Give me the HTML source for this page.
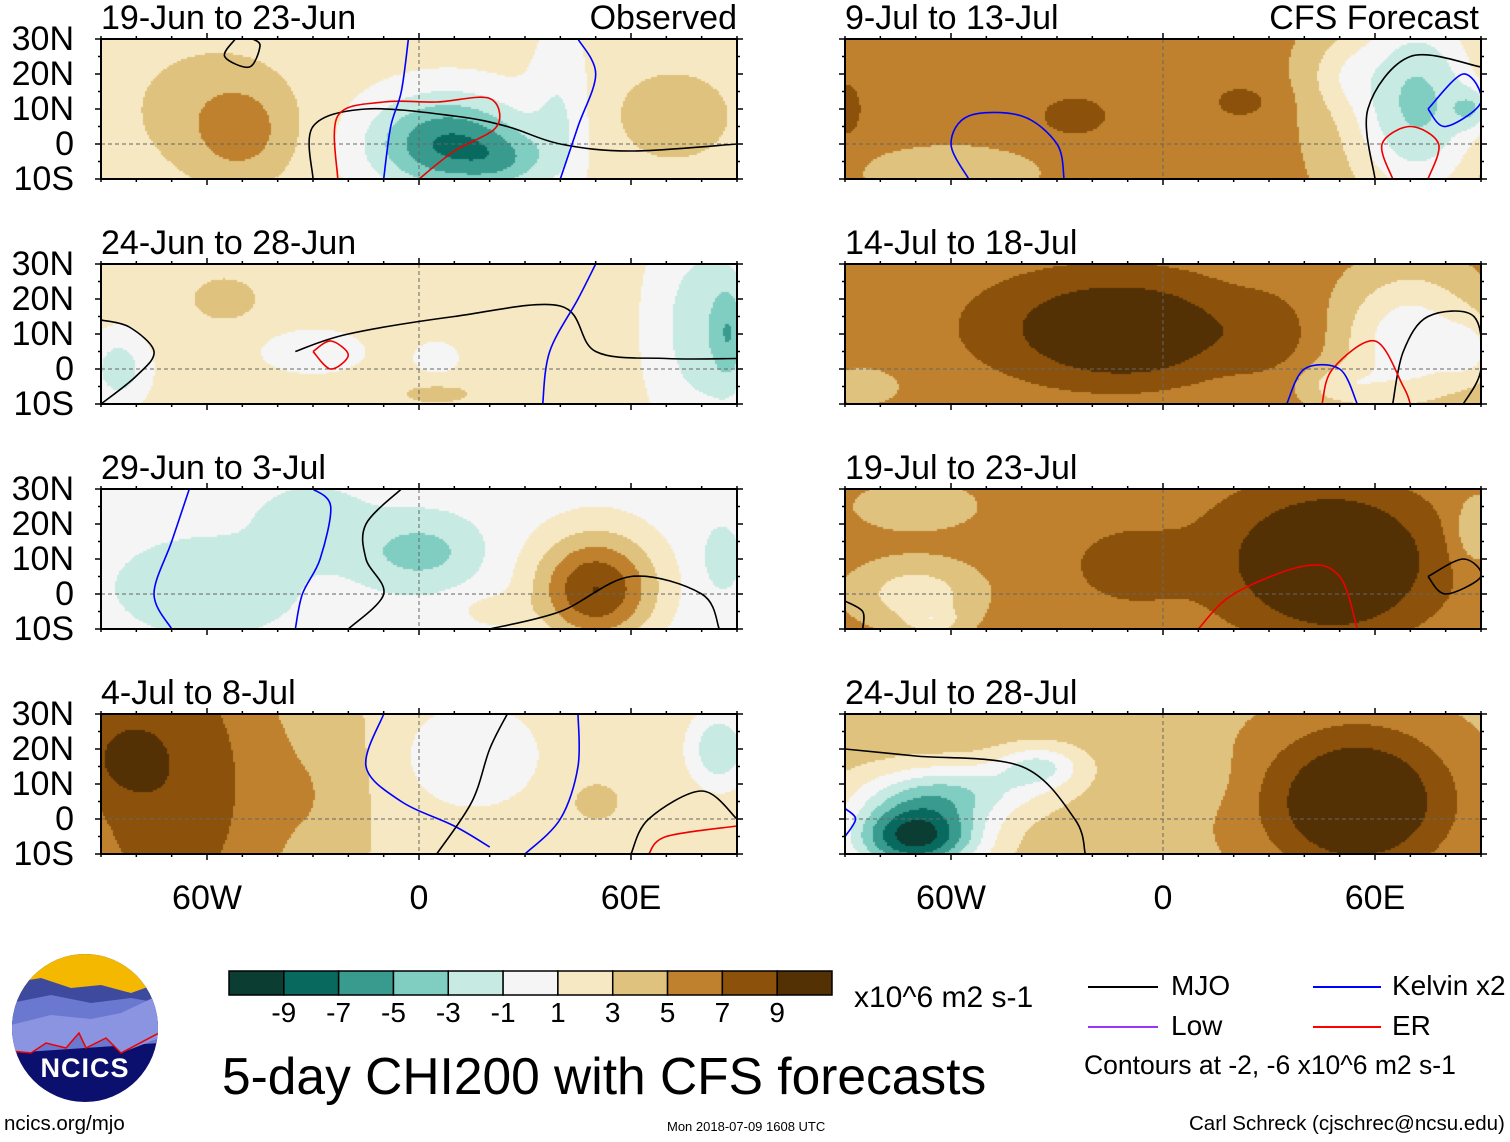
<!DOCTYPE html>
<html><head><meta charset="utf-8">
<style>
html,body{margin:0;padding:0;background:#fff;}
body{width:1510px;height:1142px;position:relative;overflow:hidden;font-family:"Liberation Sans",sans-serif;color:#000;}
.t{position:absolute;white-space:nowrap;line-height:1;}
canvas{position:absolute;}
svg{position:absolute;left:0;top:0;}
</style></head>
<body>
<svg id="ov" width="1510" height="1142"></svg>
<script>
// Color levels
const levels=[-9,-7,-5,-3,-1,1,3,5,7,9];
const colors=["#0b3d33","#086a5e","#399a8e","#80cdc1","#c7eae3","#f5f5f5","#f6e8c3","#dfc27d","#bf812d","#8c510a","#543005"];
// Panel titles
const titles=["19-Jun to 23-Jun","9-Jul to 13-Jul","24-Jun to 28-Jun","14-Jul to 18-Jul","29-Jun to 3-Jul","19-Jul to 23-Jul","4-Jul to 8-Jul","24-Jul to 28-Jul"];
// Field base values per panel
const base=[1.8,5.5,1.8,6,-0.5,5.5,2,4];
// Field blobs per panel: [lon, lat, amplitude, lonWidth, latWidth]
const blobs=[
 [[-50,3,3.0,14,14],[-60,10,2,25,20],[8,0,-9,22,14],[25,-5,-3,12,8],[40,10,-2.5,8,25],[72,8,2.5,18,14]],
 [[-25,8,2.5,12,7],[22,12,2.2,10,6],[-90,10,2.5,6,10],[-60,-8,-2.5,20,6],[72,12,-9,20,30],[88,10,-4,6,6],[50,20,-2,10,10]],
 [[-30,5,-2.5,14,6],[5,3,-1.5,8,6],[-55,20,2,12,8],[5,-7,1.8,14,4],[80,12,-4,14,30],[88,10,-4,5,15],[-85,0,-4,8,10]],
 [[-15,12,4.5,35,15],[-10,10,4.5,18,9],[30,10,2,12,10],[70,8,-6.5,20,20],[88,5,-3,8,10],[-85,-5,-3,10,5],[50,-5,-3,12,6]],
 [[-60,2,-2,22,12],[0,12,-3.5,16,9],[-30,20,-1.5,15,10],[50,0,8,17,15],[50,10,2,22,18],[85,10,-1.5,6,10],[20,-5,2,10,5]],
 [[45,10,5,35,22],[50,8,4,18,15],[-10,8,3,15,10],[-70,0,-4,15,8],[-65,-8,-3,8,4],[-70,25,-2,15,6],[88,18,-3,6,10]],
 [[-70,10,6.5,35,60],[-85,18,2.5,12,12],[15,18,-3,18,14],[85,20,-5,8,10],[-25,5,1.5,12,40],[50,5,1.5,10,8]],
 [[-70,-5,-14,18,10],[-60,8,-6,25,8],[-35,15,-5,12,6],[55,5,6,32,25],[55,5,3,18,14],[10,12,-1,12,10]]
];
// Contours: [color, [lon,lat,...]]
const contours=[
 [["#000",[-30,-10,-30,5,-15,10,10,8,25,5,40,0,60,-2,90,0]],["#e00",[-23,-10,-23,8,-10,12,5,12,20,13,22,5,10,-2,0,-10]],["#00f",[-10,-10,-8,5,-5,15,-3,30]],["#00f",[40,-10,45,5,50,20,45,30]],["#000",[-52,30,-55,25,-48,22,-45,28,-47,30]]],
 [["#00f",[-55,-10,-60,0,-55,8,-40,8,-30,0,-28,-10]],["#000",[60,-10,58,10,70,25,90,22]],["#00f",[75,10,85,20,90,12,80,5,75,10]],["#e00",[65,-10,62,0,70,5,78,0,75,-10]]],
 [["#000",[-35,5,-20,10,10,15,40,18,50,5,70,3,90,3]],["#000",[-90,-10,-80,-2,-75,5,-82,12,-90,14]],["#e00",[-30,5,-25,8,-20,4,-25,0,-30,5]],["#00f",[35,-10,37,5,45,20,50,30]]],
 [["#000",[65,-10,68,5,75,15,88,15,90,0,85,-10]],["#e00",[45,-10,48,0,60,8,68,-5,70,-10]],["#00f",[35,-10,40,0,50,0,55,-10]]],
 [["#00f",[-70,-10,-75,0,-70,15,-65,30]],["#00f",[-35,-10,-33,0,-28,10,-25,25,-30,30]],["#000",[-20,-10,-10,0,-15,10,-15,20,-5,30]],["#000",[20,-10,40,-5,60,5,80,0,85,-10]]],
 [["#e00",[10,-10,20,0,40,8,50,5,55,-10]],["#000",[-90,-2,-85,-5,-85,-10]],["#000",[75,5,85,10,90,5,80,0,75,5]]],
 [["#00f",[-10,30,-15,15,-5,5,10,-2,20,-8]],["#000",[5,-10,15,5,20,20,25,30]],["#00f",[30,-10,40,0,45,15,45,30]],["#000",[60,-10,65,0,80,8,90,0]],["#e00",[65,-10,70,-5,90,-2]]],
 [["#000",[-90,20,-70,18,-40,15,-25,0,-22,-10]],["#00f",[-90,-5,-87,0,-90,3]]]
];
</script>
<script>
const ov=document.getElementById('ov');
const NS='http://www.w3.org/2000/svg';
function mk(tag,attrs,parent){const e=document.createElementNS(NS,tag);for(const k in attrs)e.setAttribute(k,attrs[k]);(parent||ov).appendChild(e);return e;}
const PX0=[101,845],PW=636,PH=140,PY0=[39,264,489,714];
function lonX(p,lon){return PX0[p%2]+(lon+90)/180*PW;}
function latY(p,lat){return PY0[Math.floor(p/2)]+(30-lat)/40*PH;}
function colorFor(v){let i=0;while(i<levels.length&&v>levels[i])i++;return colors[i];}
function smoothPath(pts){
  let d='M'+pts[0][0].toFixed(1)+','+pts[0][1].toFixed(1);
  for(let i=0;i<pts.length-1;i++){
    const p0=pts[Math.max(0,i-1)],p1=pts[i],p2=pts[i+1],p3=pts[Math.min(pts.length-1,i+2)];
    const c1=[p1[0]+(p2[0]-p0[0])/6,p1[1]+(p2[1]-p0[1])/6],c2=[p2[0]-(p3[0]-p1[0])/6,p2[1]-(p3[1]-p1[1])/6];
    d+='C'+c1[0].toFixed(1)+','+c1[1].toFixed(1)+' '+c2[0].toFixed(1)+','+c2[1].toFixed(1)+' '+p2[0].toFixed(1)+','+p2[1].toFixed(1);
  }
  return d;
}
for(let p=0;p<8;p++){
  const x0=PX0[p%2],y0=PY0[Math.floor(p/2)];
  const c=document.createElement('canvas');c.width=PW;c.height=PH;c.style.left=x0+'px';c.style.top=y0+'px';
  
  
  document.body.insertBefore(c,ov);
  const ctx=c.getContext('2d');
  const st=2;
  for(let py=0;py<PH;py+=st)for(let px=0;px<PW;px+=st){
    const lon=-90+(px+1)/PW*180,lat=30-(py+1)/PH*40;
    let v=base[p];
    for(const b of blobs[p]){const dx=(lon-b[0])/b[3],dy=(lat-b[1])/b[4];v+=b[2]*Math.exp(-(dx*dx+dy*dy));}
    ctx.fillStyle=colorFor(v);ctx.fillRect(px,py,st,st);
  }
  const g=mk('g',{});
  
  
  mk('line',{x1:x0,x2:x0+PW,y1:latY(p,0),y2:latY(p,0),stroke:'#666','stroke-dasharray':'4,3','stroke-width':1},g);
  mk('line',{x1:lonX(p,0),x2:lonX(p,0),y1:y0,y2:y0+PH,stroke:'#666','stroke-dasharray':'4,3','stroke-width':1},g);
  const cp=mk('clipPath',{id:'clip'+p},g);
  mk('rect',{x:x0,y:y0,width:PW,height:PH},cp);
  for(const cc of contours[p]){
    const a=cc[1];const pts=[];
    for(let i=0;i<a.length;i+=2)pts.push([lonX(p,a[i]),latY(p,a[i+1])]);
    const path=mk('path',{d:smoothPath(pts),fill:'none',stroke:cc[0],'stroke-width':1.6,'clip-path':'url(#clip'+p+')'},g);
    
    
  }
  mk('rect',{x:x0,y:y0,width:PW,height:PH,fill:'none',stroke:'#000','stroke-width':2},g);
  for(let lon=-90;lon<=90;lon+=10){const X=lonX(p,lon);const L=lon%60===0?6:3;
    mk('line',{x1:X,x2:X,y1:y0,y2:y0-L,stroke:'#000','stroke-width':1.5},g);mk('line',{x1:X,x2:X,y1:y0+PH,y2:y0+PH+L,stroke:'#000','stroke-width':1.5},g);}
  for(let lat=-10;lat<=30;lat+=5){const Y=latY(p,lat);const L=lat%10===0?6:3;
    mk('line',{x1:x0,x2:x0-L,y1:Y,y2:Y,stroke:'#000','stroke-width':1.5},g);mk('line',{x1:x0+PW,x2:x0+PW+L,y1:Y,y2:Y,stroke:'#000','stroke-width':1.5},g);}
  const t=document.createElement('div');t.className='t';t.textContent=titles[p];
  t.style.cssText='left:'+(x0)+'px;top:'+(y0-38)+'px;font-size:34px;';
  
  
  document.body.appendChild(t);
  if(p%2===0){
    const labs=['30N','20N','10N','0','10S'];
    labs.forEach((s,i)=>{const d=document.createElement('div');d.className='t';d.textContent=s;
      d.style.cssText='right:'+(1510-74)+'px;top:'+(y0-17+i*35)+'px;font-size:34px;text-align:right;';
      
      
      document.body.appendChild(d);});
  }
}
[0,1].forEach(col=>{['60W','0','60E'].forEach((s,i)=>{const d=document.createElement('div');d.className='t';d.textContent=s;
  const X=lonX(col,-60+60*i);d.style.cssText='left:'+(X-60)+'px;width:120px;text-align:center;top:881px;font-size:34px;';
  
  
  document.body.appendChild(d);});});
const cb=mk('g',{});


const cbw=603/11;
colors.forEach((c,i)=>mk('rect',{x:229+i*cbw,y:971,width:cbw,height:24,fill:c,stroke:'#000','stroke-width':1.5},cb));
levels.forEach((l,i)=>{const d=document.createElement('div');d.className='t';d.textContent=l;
  d.style.cssText='left:'+(229+(i+1)*cbw-30)+'px;width:60px;text-align:center;top:999px;font-size:28px;';
  
  
  document.body.appendChild(d);});
</script>
<div class="t" style="right:773px;top:1px;font-size:34px;">Observed</div>
<div class="t" style="right:31px;top:1px;font-size:34px;">CFS Forecast</div>
<div class="t" style="left:854px;top:983px;font-size:30px;">x10^6 m2 s-1</div>
<div class="t" style="left:222px;top:1051px;font-size:51.5px;">5-day CHI200 with CFS forecasts</div>
<div>
<div style="position:absolute;left:1088px;top:986px;width:70px;height:2px;background:#000"></div>
<div class="t" style="left:1171px;top:972px;font-size:28px;">MJO</div>
<div style="position:absolute;left:1313px;top:986px;width:68px;height:2px;background:#00f"></div>
<div class="t" style="left:1392px;top:972px;font-size:28px;">Kelvin x2</div>
<div style="position:absolute;left:1088px;top:1026px;width:70px;height:2px;background:#9933ff"></div>
<div class="t" style="left:1171px;top:1012px;font-size:28px;">Low</div>
<div style="position:absolute;left:1313px;top:1026px;width:68px;height:2px;background:#f00"></div>
<div class="t" style="left:1392px;top:1012px;font-size:28px;">ER</div>
<div class="t" style="left:1084px;top:1052px;font-size:26.5px;">Contours at -2, -6 x10^6 m2 s-1</div>
</div>
<div class="t" style="left:1189px;top:1114px;font-size:20.5px;">Carl Schreck (cjschrec@ncsu.edu)</div>
<div class="t" style="left:667px;top:1120px;font-size:13px;">Mon 2018-07-09 1608 UTC</div>
<div class="t" style="left:4px;top:1114px;font-size:20.5px;">ncics.org/mjo</div>
<svg style="left:11px;top:953px" width="148" height="150">
<defs><clipPath id="cl"><ellipse cx="74" cy="75" rx="73" ry="74"/></clipPath></defs>
<g clip-path="url(#cl)">
<rect width="148" height="150" fill="#0b0f6e"/>
<rect width="148" height="40" fill="#f5b800"/>
<path d="M0,30 L30,25 L60,35 L90,32 L120,40 L148,30 L148,75 L0,85Z" fill="#3e4a9e"/>
<path d="M0,50 L40,42 L80,50 L120,45 L148,50 L148,90 L0,100Z" fill="#6a78d0"/>
<path d="M0,72 L40,62 L80,66 L110,60 L148,42 L148,85 L110,100 L95,85 L75,95 L68,80 L55,95 L35,90 L20,100 L0,98Z" fill="#8a94e0"/>
<path d="M0,98 L20,100 L35,90 L55,95 L68,80 L75,95 L95,85 L110,100 L148,80" fill="none" stroke="#e00" stroke-width="1.5"/>
</g>
<text x="74" y="124" text-anchor="middle" font-family="Liberation Sans" font-weight="bold" font-size="27" fill="#fff" letter-spacing="1">NCICS</text>
</svg>
</body></html>
